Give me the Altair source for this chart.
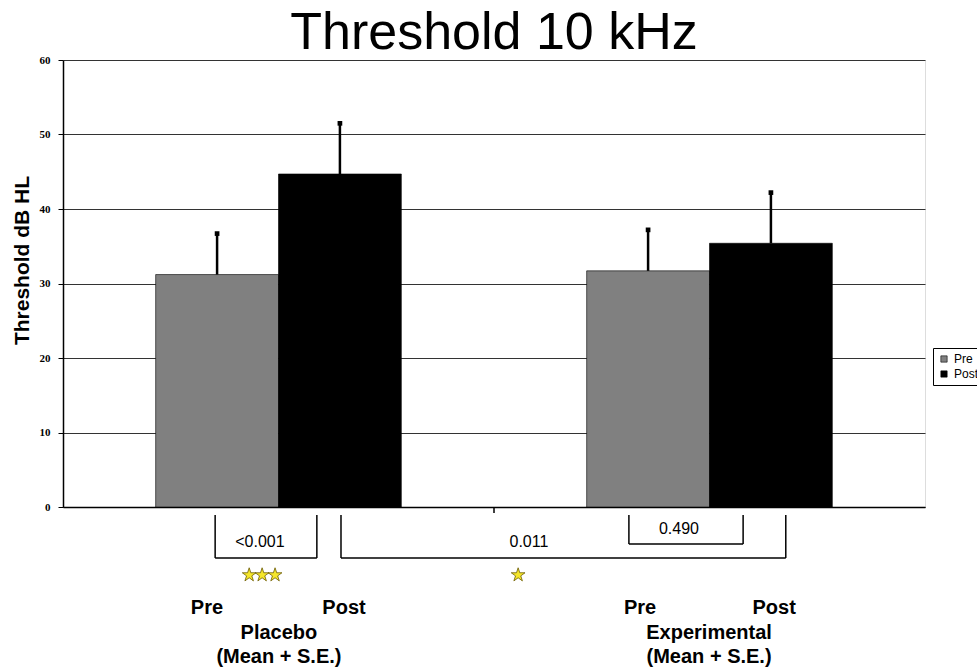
import altair as alt
import pandas as pd

# ---- data ----
groups = ["Placebo", "Placebo", "Experimental", "Experimental"]
phases = ["Pre", "Post", "Pre", "Post"]
means = [31.2, 44.7, 31.7, 35.4]
ses = [5.5, 6.8, 5.5, 6.8]

group_order = ["Placebo", "Experimental"]
phase_order = ["Pre", "Post"]
phase_colors = ["#808080", "#000000"]

# annotation positions in group units (0..2 across the x axis) and y data units
bracket_left = [0.353, 0.645, 1.313]
bracket_right = [0.589, 1.677, 1.578]
bracket_top = [-1.07, -1.07, -1.07]
bracket_bottom = [-6.85, -6.85, -4.97]

pval_text = ["<0.001", "0.011", "0.490"]
pval_x = [0.457, 1.081, 1.429]
pval_y = [-4.67, -4.67, -2.9]

star_x = [0.432, 0.462, 0.492, 1.056]
star_y = [-9.13, -9.13, -9.13, -9.13]

phase_label_text = ["Pre", "Post", "Pre", "Post"]
phase_label_x = [0.334, 0.652, 1.339, 1.650]
phase_label_y = [-13.56, -13.56, -13.56, -13.56]

group_label_text = ["Placebo", "Experimental", "(Mean + S.E.)", "(Mean + S.E.)"]
group_label_x = [0.501, 1.499, 0.501, 1.499]
group_label_y = [-16.91, -16.91, -20.15, -20.15]

mid_tick_x = [1.0]
mid_tick_y = [0.0]
mid_tick_y2 = [-0.8]

# ---- tables ----
bars = pd.DataFrame({"group": groups, "phase": phases, "mean": means, "se": ses})
bars["upper"] = bars["mean"] + bars["se"]

segs = []
for l, r, t, b in zip(bracket_left, bracket_right, bracket_top, bracket_bottom):
    segs.append({"x": l, "x2": l, "y": t, "y2": b})
    segs.append({"x": r, "x2": r, "y": t, "y2": b})
    segs.append({"x": l, "x2": r, "y": b, "y2": b})
for x, y, y2 in zip(mid_tick_x, mid_tick_y, mid_tick_y2):
    segs.append({"x": x, "x2": x, "y": y, "y2": y2})
segs = pd.DataFrame(segs)

pvals = pd.DataFrame({"t": pval_text, "x": pval_x, "y": pval_y})
stars = pd.DataFrame({"x": star_x, "y": star_y})
phase_labels = pd.DataFrame({"t": phase_label_text, "x": phase_label_x, "y": phase_label_y})
group_labels = pd.DataFrame({"t": group_label_text, "x": group_label_x, "y": group_label_y})

FONT = "Liberation Sans"

yscale = alt.Scale(domain=[0, 60], nice=False, zero=True)
xband = alt.X(
    "group:N",
    sort=group_order,
    scale=alt.Scale(paddingInner=0.43, paddingOuter=0.215),
    axis=alt.Axis(labels=False, ticks=False, title=None, domainColor="#000000",
                  domainWidth=1.5, grid=False),
)
xoff = alt.XOffset("phase:N", sort=phase_order)

bar_layer = alt.Chart(bars).mark_bar(stroke="#000000", strokeWidth=0.6).encode(
    x=xband,
    xOffset=xoff,
    y=alt.Y(
        "mean:Q",
        scale=yscale,
        axis=alt.Axis(
            values=[0, 10, 20, 30, 40, 50, 60],
            title="Threshold dB HL",
            titleFont=FONT,
            titleFontSize=21,
            titleFontWeight="bold",
            titleColor="#000000",
            titleX=-31,
            titleY=200,
            labelFont="Liberation Serif",
            labelFontSize=11,
            labelFontWeight="bold",
            labelColor="#000000",
            labelPadding=8,
            tickColor="#000000",
            tickSize=5,
            domainColor="#000000",
            domainWidth=1.5,
            gridColor="#333333",
            gridWidth=1,
            grid=True,
        ),
    ),
    color=alt.Color(
        "phase:N",
        sort=phase_order,
        scale=alt.Scale(domain=phase_order, range=phase_colors),
        legend=alt.Legend(
            title=None,
            orient="none",
            legendX=870,
            legendY=288,
            symbolType="square",
            symbolSize=40,
            symbolStrokeColor="#000000",
            symbolStrokeWidth=0.6,
            labelFont=FONT,
            labelFontSize=12,
            labelColor="#000000",
            strokeColor="#000000",
            padding=5,
            rowPadding=3,
            fillColor="#ffffff",
        ),
    ),
)

err_rule = alt.Chart(bars).mark_rule(color="#000000", strokeWidth=2.5).encode(
    x=xband, xOffset=xoff, y=alt.Y("mean:Q", scale=yscale), y2="upper:Q"
)
err_cap = alt.Chart(bars).mark_point(shape="square", filled=True, color="#000000",
                                     size=22, opacity=1).encode(
    x=xband, xOffset=xoff, y=alt.Y("upper:Q", scale=yscale)
)

main = alt.layer(bar_layer, err_rule, err_cap)

xq = alt.Scale(domain=[0, 2], nice=False, zero=False)

seg_layer = alt.Chart(segs).mark_rule(color="#000000", strokeWidth=1.5).encode(
    x=alt.X("x:Q", scale=xq, axis=None),
    x2="x2:Q",
    y=alt.Y("y:Q", scale=yscale),
    y2="y2:Q",
)
pval_layer = alt.Chart(pvals).mark_text(font=FONT, fontSize=16, color="#000000",
                                        baseline="middle").encode(
    x=alt.X("x:Q", scale=xq, axis=None),
    y=alt.Y("y:Q", scale=yscale),
    text="t:N",
)
star_path = ("M0,-1L0.2245,-0.309L0.951,-0.309L0.363,0.118L0.588,0.809L0,0.382"
             "L-0.588,0.809L-0.363,0.118L-0.951,-0.309L-0.2245,-0.309Z")
star_layer = alt.Chart(stars).mark_point(shape=star_path, filled=True, fill="#f5e62a",
                                         stroke="#6b5a00", strokeWidth=0.8,
                                         size=210, opacity=1).encode(
    x=alt.X("x:Q", scale=xq, axis=None),
    y=alt.Y("y:Q", scale=yscale),
)
phase_layer = alt.Chart(phase_labels).mark_text(font=FONT, fontSize=20, fontWeight="bold",
                                                color="#000000", baseline="middle").encode(
    x=alt.X("x:Q", scale=xq, axis=None),
    y=alt.Y("y:Q", scale=yscale),
    text="t:N",
)
group_layer = alt.Chart(group_labels).mark_text(font=FONT, fontSize=20, fontWeight="bold",
                                                color="#000000", baseline="middle").encode(
    x=alt.X("x:Q", scale=xq, axis=None),
    y=alt.Y("y:Q", scale=yscale),
    text="t:N",
)

annot = alt.layer(seg_layer, pval_layer, star_layer, phase_layer, group_layer)

chart = alt.layer(main, annot).resolve_scale(x="independent").properties(
    width=862,
    height=447,
    autosize=alt.AutoSizeParams(type="none"),
    padding={"left": 63, "top": 60, "right": 52, "bottom": 162},
    title=alt.TitleParams(
        "Threshold 10 kHz",
        font=FONT,
        fontSize=52,
        fontWeight="normal",
        color="#000000",
        anchor="middle",
        offset=4,
        dy=10,
    ),
).configure_view(stroke="#444444", strokeWidth=1.2).configure(background="#ffffff")

chart.save("out.html", embed_options={"renderer": "svg", "actions": False})
